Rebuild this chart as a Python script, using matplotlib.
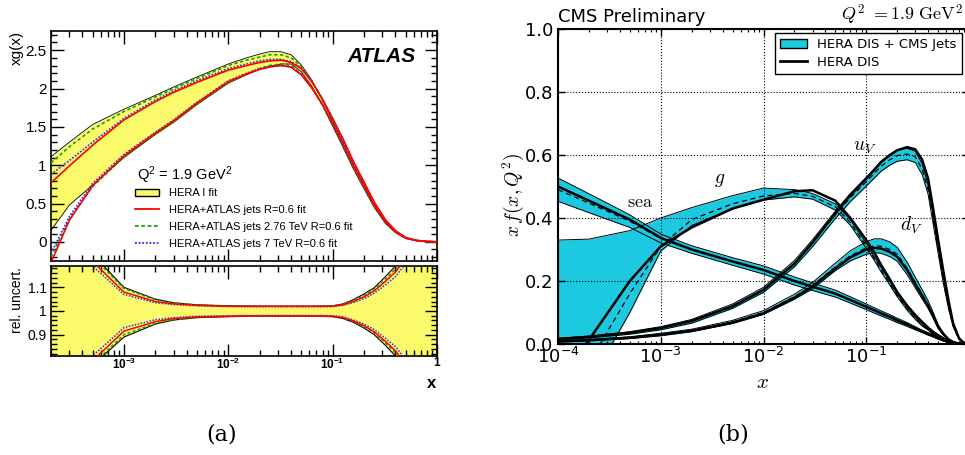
import math
import matplotlib
matplotlib.use("Agg")
import matplotlib.pyplot as plt
from matplotlib.patches import Patch
from matplotlib.lines import Line2D
from matplotlib.ticker import FixedLocator, MultipleLocator, LogLocator, NullFormatter, FuncFormatter

plt.rcParams['mathtext.fontset'] = 'cm'

# ---------------- (a) ATLAS gluon, Q2 = 1.9 GeV2 ----------------
x_a = [2e-4, 3e-4, 5e-4, 1e-3, 2e-3, 3e-3, 5e-3, 0.01, 0.015, 0.02, 0.025, 0.032, 0.04, 0.05,
       0.063, 0.08, 0.1, 0.126, 0.158, 0.2, 0.25, 0.32, 0.4, 0.5, 0.63, 0.8, 1.0]

# xg(x) band edges
hera1_up = [1.11, 1.30, 1.53, 1.73, 1.91, 2.02, 2.15, 2.32, 2.40, 2.45, 2.48, 2.48, 2.44, 2.31,
            2.11, 1.85, 1.58, 1.29, 1.00, 0.73, 0.48, 0.26, 0.13, 0.05, 0.018, 0.004, 0.0]
hera1_dn = [0.15, 0.48, 0.74, 1.10, 1.40, 1.56, 1.79, 2.07, 2.18, 2.25, 2.29, 2.32, 2.32, 2.22,
            2.03, 1.78, 1.51, 1.23, 0.95, 0.69, 0.45, 0.24, 0.12, 0.045, 0.015, 0.003, 0.0]
red_up = [0.77, 0.99, 1.26, 1.59, 1.83, 1.95, 2.08, 2.24, 2.30, 2.34, 2.36, 2.37, 2.34, 2.26,
          2.09, 1.86, 1.61, 1.34, 1.05, 0.78, 0.52, 0.29, 0.145, 0.057, 0.02, 0.005, 0.0]
red_dn = [-0.27, 0.28, 0.73, 1.12, 1.42, 1.58, 1.81, 2.09, 2.19, 2.25, 2.28, 2.30, 2.28, 2.18,
          2.01, 1.79, 1.54, 1.27, 0.99, 0.73, 0.48, 0.26, 0.13, 0.05, 0.017, 0.004, 0.0]
green_up = [1.03, 1.24, 1.47, 1.70, 1.89, 2.00, 2.13, 2.30, 2.37, 2.41, 2.44, 2.44, 2.40, 2.29,
            2.10, 1.85, 1.59, 1.31, 1.02, 0.75, 0.50, 0.27, 0.135, 0.052, 0.018, 0.004, 0.0]
green_dn = [-0.20, 0.30, 0.72, 1.11, 1.41, 1.57, 1.80, 2.08, 2.19, 2.26, 2.30, 2.32, 2.30, 2.19,
            2.01, 1.78, 1.52, 1.25, 0.97, 0.71, 0.46, 0.25, 0.125, 0.047, 0.016, 0.003, 0.0]
blue_up = [0.88, 1.06, 1.30, 1.61, 1.85, 1.97, 2.10, 2.26, 2.32, 2.36, 2.38, 2.38, 2.35, 2.27,
           2.10, 1.86, 1.60, 1.33, 1.04, 0.77, 0.51, 0.28, 0.14, 0.055, 0.019, 0.005, 0.0]
blue_dn = [-0.15, 0.33, 0.76, 1.14, 1.43, 1.59, 1.82, 2.10, 2.20, 2.26, 2.29, 2.30, 2.28, 2.18,
           2.01, 1.79, 1.54, 1.27, 0.99, 0.73, 0.48, 0.26, 0.13, 0.05, 0.017, 0.004, 0.0]

# relative uncertainties
rel_hera1_up = [1.6, 1.4, 1.24, 1.10, 1.05, 1.035, 1.026, 1.022, 1.021, 1.02, 1.02, 1.02, 1.02, 1.02,
                1.02, 1.021, 1.022, 1.03, 1.048, 1.072, 1.098, 1.145, 1.19, 1.26, 1.35, 1.47, 1.6]
rel_hera1_dn = [0.4, 0.6, 0.77, 0.89, 0.945, 0.962, 0.972, 0.976, 0.978, 0.978, 0.978, 0.978, 0.978, 0.978,
                0.978, 0.977, 0.976, 0.968, 0.952, 0.928, 0.9, 0.855, 0.81, 0.74, 0.65, 0.53, 0.4]
rel_red_up = [1.5, 1.33, 1.21, 1.08, 1.04, 1.03, 1.024, 1.02, 1.02, 1.02, 1.02, 1.02, 1.02, 1.02,
              1.02, 1.02, 1.02, 1.026, 1.04, 1.06, 1.085, 1.125, 1.165, 1.22, 1.3, 1.4, 1.5]
rel_red_dn = [0.5, 0.67, 0.79, 0.915, 0.955, 0.968, 0.975, 0.978, 0.979, 0.979, 0.979, 0.979, 0.979, 0.979,
              0.979, 0.979, 0.978, 0.972, 0.958, 0.938, 0.912, 0.872, 0.832, 0.775, 0.7, 0.6, 0.5]
rel_green_up = [1.57, 1.38, 1.23, 1.095, 1.048, 1.034, 1.025, 1.021, 1.02, 1.02, 1.02, 1.02, 1.02, 1.02,
                1.02, 1.02, 1.021, 1.028, 1.044, 1.066, 1.092, 1.135, 1.178, 1.24, 1.32, 1.43, 1.55]
rel_green_dn = [0.43, 0.62, 0.775, 0.9, 0.948, 0.963, 0.973, 0.977, 0.978, 0.978, 0.978, 0.978, 0.978, 0.978,
                0.978, 0.978, 0.977, 0.97, 0.956, 0.934, 0.908, 0.865, 0.822, 0.76, 0.68, 0.57, 0.45]
rel_blue_up = [1.45, 1.3, 1.19, 1.07, 1.035, 1.027, 1.022, 1.019, 1.018, 1.018, 1.018, 1.018, 1.018, 1.018,
               1.018, 1.018, 1.019, 1.024, 1.036, 1.052, 1.075, 1.11, 1.145, 1.2, 1.27, 1.36, 1.45]
rel_blue_dn = [0.55, 0.7, 0.81, 0.93, 0.963, 0.972, 0.978, 0.98, 0.981, 0.981, 0.981, 0.981, 0.981, 0.981,
               0.981, 0.981, 0.98, 0.975, 0.962, 0.945, 0.922, 0.885, 0.85, 0.795, 0.72, 0.63, 0.55]

# ---------------- (b) CMS PDFs, Q2 = 1.9 GeV2 ----------------
x_b = [1e-4, 2e-4, 5e-4, 1e-3, 2e-3, 5e-3, 0.01, 0.02, 0.03, 0.05, 0.07, 0.1, 0.12, 0.14, 0.17,
       0.2, 0.25, 0.3, 0.35, 0.4, 0.45, 0.5, 0.56, 0.63, 0.7, 0.8, 0.9, 1.0]

g_up = [0.33, 0.333, 0.36, 0.40, 0.433, 0.471, 0.495, 0.49, 0.478, 0.445, 0.395, 0.32, 0.277, 0.243, 0.199,
        0.16, 0.115, 0.085, 0.062, 0.048, 0.033, 0.022, 0.013, 0.007, 0.003, 0.001, 0.0002, 0.0]
g_dn = [-0.30, -0.13, 0.10, 0.295, 0.376, 0.43, 0.457, 0.467, 0.46, 0.425, 0.377, 0.303, 0.265, 0.228, 0.186,
        0.15, 0.107, 0.078, 0.057, 0.044, 0.03, 0.02, 0.012, 0.006, 0.0025, 0.0008, 0.0001, 0.0]
g_mid = [-0.14, -0.06, 0.16, 0.31, 0.395, 0.445, 0.47, 0.478, 0.469, 0.435, 0.386, 0.311, 0.271, 0.235, 0.192,
         0.155, 0.111, 0.081, 0.06, 0.046, 0.031, 0.021, 0.0125, 0.0065, 0.0028, 0.0009, 0.00015, 0.0]
g_hera = [-0.12, 0.013, 0.2, 0.31, 0.37, 0.43, 0.458, 0.485, 0.488, 0.455, 0.40, 0.33, 0.29, 0.25, 0.205,
          0.165, 0.122, 0.092, 0.07, 0.052, 0.038, 0.028, 0.018, 0.009, 0.004, 0.0012, 0.0002, 0.0]

sea_up = [0.527, 0.477, 0.41, 0.349, 0.312, 0.274, 0.248, 0.213, 0.194, 0.171, 0.15, 0.127, 0.115, 0.105, 0.093,
          0.082, 0.068, 0.055, 0.044, 0.036, 0.028, 0.02, 0.014, 0.008, 0.005, 0.002, 0.0004, 0.0]
sea_dn = [0.453, 0.417, 0.37, 0.321, 0.288, 0.25, 0.222, 0.187, 0.17, 0.149, 0.13, 0.109, 0.098, 0.089, 0.078,
          0.068, 0.056, 0.045, 0.036, 0.028, 0.022, 0.016, 0.01, 0.006, 0.003, 0.001, 0.0002, 0.0]
sea_mid = [0.49, 0.447, 0.39, 0.335, 0.30, 0.262, 0.235, 0.2, 0.182, 0.16, 0.14, 0.118, 0.107, 0.097, 0.086,
           0.075, 0.062, 0.05, 0.04, 0.032, 0.025, 0.018, 0.012, 0.007, 0.004, 0.0015, 0.0003, 0.0]
sea_hera = [0.50, 0.455, 0.395, 0.337, 0.30, 0.262, 0.235, 0.2, 0.182, 0.16, 0.14, 0.118, 0.107, 0.097, 0.086,
            0.075, 0.062, 0.05, 0.04, 0.032, 0.025, 0.018, 0.012, 0.007, 0.004, 0.0015, 0.0003, 0.0]

uv_up = [0.018, 0.025, 0.039, 0.055, 0.078, 0.127, 0.18, 0.265, 0.331, 0.422, 0.478, 0.529, 0.557, 0.581, 0.602,
         0.616, 0.621, 0.612, 0.572, 0.505, 0.403, 0.311, 0.214, 0.126, 0.061, 0.016, 0.0022, 0.0]
uv_dn = [0.012, 0.019, 0.031, 0.045, 0.066, 0.113, 0.164, 0.245, 0.309, 0.398, 0.452, 0.501, 0.527, 0.549, 0.568,
         0.58, 0.585, 0.576, 0.538, 0.475, 0.377, 0.289, 0.196, 0.114, 0.055, 0.014, 0.0018, 0.0]
uv_mid = [0.015, 0.022, 0.035, 0.05, 0.072, 0.12, 0.172, 0.255, 0.32, 0.41, 0.465, 0.515, 0.542, 0.565, 0.585,
          0.598, 0.603, 0.594, 0.555, 0.49, 0.39, 0.30, 0.205, 0.12, 0.058, 0.015, 0.002, 0.0]
uv_hera = [0.016, 0.023, 0.036, 0.051, 0.073, 0.12, 0.172, 0.255, 0.322, 0.415, 0.472, 0.525, 0.553, 0.578, 0.60,
           0.615, 0.625, 0.618, 0.585, 0.525, 0.425, 0.332, 0.235, 0.14, 0.066, 0.018, 0.0025, 0.0]

dv_up = [0.010, 0.014, 0.023, 0.034, 0.047, 0.075, 0.106, 0.158, 0.195, 0.257, 0.296, 0.325, 0.334, 0.334, 0.324,
         0.307, 0.26, 0.212, 0.173, 0.137, 0.099, 0.062, 0.037, 0.017, 0.007, 0.0018, 0.0003, 0.0]
dv_dn = [0.006, 0.010, 0.017, 0.026, 0.039, 0.065, 0.094, 0.142, 0.175, 0.233, 0.264, 0.285, 0.29, 0.288, 0.277,
         0.263, 0.22, 0.178, 0.143, 0.113, 0.081, 0.05, 0.029, 0.013, 0.005, 0.0012, 0.0001, 0.0]
dv_mid = [0.008, 0.012, 0.02, 0.03, 0.043, 0.07, 0.10, 0.15, 0.185, 0.245, 0.28, 0.305, 0.312, 0.31, 0.30,
          0.285, 0.24, 0.195, 0.158, 0.125, 0.09, 0.056, 0.033, 0.015, 0.006, 0.0015, 0.0002, 0.0]
dv_hera = [0.008, 0.012, 0.02, 0.03, 0.042, 0.068, 0.097, 0.147, 0.183, 0.24, 0.275, 0.30, 0.305, 0.303, 0.292,
           0.277, 0.235, 0.19, 0.153, 0.12, 0.087, 0.055, 0.032, 0.015, 0.006, 0.0015, 0.0002, 0.0]

W, H = 965, 455
yellow = '#fafa6a'
cyan = '#1cc9e1'
red = '#ff0000'
green = '#14a014'
blue = '#2a2aff'
sans = 'Liberation Sans'


def box(l, t, r, b):
    # pixel box -> figure fraction rect
    return [l / W, 1 - b / H, (r - l) / W, (b - t) / H]


def pow10(v, p):
    return r'$\mathregular{10^{%d}}$' % round(math.log10(v))


fig = plt.figure(figsize=(W / 100, H / 100), dpi=100)

ax1 = fig.add_axes(box(51, 31, 437, 261))
ax2 = fig.add_axes(box(51, 266, 437, 356))
axb = fig.add_axes(box(558, 29, 969, 344))

# ---- top panel ----
ax1.fill_between(x_a, hera1_dn, hera1_up, color=yellow, lw=0, zorder=1)
ax1.plot(x_a, hera1_up, color='k', lw=0.6, zorder=2)
ax1.plot(x_a, hera1_dn, color='k', lw=0.6, zorder=2)
for up, dn, col, ls in [(green_up, green_dn, green, (0, (2, 1.5))),
                        (blue_up, blue_dn, blue, (0, (1, 1))),
                        (red_up, red_dn, red, '-')]:
    ax1.plot(x_a, up, color=col, lw=1.2, ls=ls, zorder=3)
    ax1.plot(x_a, dn, color=col, lw=1.2, ls=ls, zorder=3)

ax1.set_xscale('log')
ax1.set_xlim(2e-4, 1)
ax1.set_ylim(-0.25, 2.75)
ax1.yaxis.set_major_locator(MultipleLocator(0.5))
ax1.yaxis.set_minor_locator(MultipleLocator(0.1))
ax1.yaxis.set_major_formatter(FuncFormatter(lambda v, p: '%g' % v))
ax1.xaxis.set_major_formatter(NullFormatter())

# ---- ratio panel ----
ax2.fill_between(x_a, rel_hera1_dn, rel_hera1_up, color=yellow, lw=0, zorder=1)
ax2.plot(x_a, rel_hera1_up, color='k', lw=0.8, zorder=2)
ax2.plot(x_a, rel_hera1_dn, color='k', lw=0.8, zorder=2)
for up, dn, col, ls in [(rel_green_up, rel_green_dn, green, (0, (2, 1.5))),
                        (rel_blue_up, rel_blue_dn, blue, (0, (1, 1))),
                        (rel_red_up, rel_red_dn, red, '-')]:
    ax2.plot(x_a, up, color=col, lw=1.1, ls=ls, zorder=3)
    ax2.plot(x_a, dn, color=col, lw=1.1, ls=ls, zorder=3)

ax2.set_xscale('log')
ax2.set_xlim(2e-4, 1)
ax2.set_ylim(0.81, 1.19)
ax2.yaxis.set_major_locator(FixedLocator([0.9, 1.0, 1.1]))
ax2.yaxis.set_minor_locator(MultipleLocator(0.02))
ax2.yaxis.set_major_formatter(FuncFormatter(lambda v, p: '%g' % v))
ax2.xaxis.set_major_locator(FixedLocator([1e-3, 1e-2, 1e-1, 1]))
ax2.xaxis.set_major_formatter(FuncFormatter(lambda v, p: '1' if v >= 1 else pow10(v, p)))

for ax in (ax1, ax2):
    ax.xaxis.set_minor_locator(LogLocator(base=10, subs=range(2, 10), numticks=20))
    ax.xaxis.set_minor_formatter(NullFormatter())
    ax.tick_params(which='both', direction='in', top=True, right=True, width=1.0)
    ax.tick_params(which='major', length=9)
    ax.tick_params(which='minor', length=4.5)
    for s in ax.spines.values():
        s.set_linewidth(1.2)
    for lab in ax.get_yticklabels():
        lab.set_family(sans)
ax1.tick_params(axis='y', labelsize=11, pad=3)
ax2.tick_params(axis='y', labelsize=10, pad=3)
ax2.tick_params(axis='x', labelsize=8.5, pad=0.5)
for lab in ax2.get_xticklabels():
    lab.set_family(sans)
    lab.set_weight('bold')

fig.text(17 / W, 1 - 31 / H, 'xg(x)', rotation=90, ha='center', va='top', fontsize=11, family=sans)
fig.text(17 / W, 1 - 267 / H, 'rel. uncert.', rotation=90, ha='center', va='top', fontsize=10, family=sans)
fig.text(436 / W, 1 - 383 / H, 'x', ha='right', va='center', fontsize=12, family=sans, weight='bold')
fig.text(416 / W, 1 - 57 / H, 'ATLAS', ha='right', va='center', fontsize=15, family=sans,
         weight='bold', style='italic')
fig.text(137 / W, 1 - 175 / H, r'Q$\mathregular{^2}$ = 1.9 GeV$\mathregular{^2}$', ha='left', va='center',
         fontsize=10.5, family=sans)

h_a = [Patch(facecolor=yellow, edgecolor='k', lw=1.0),
       Line2D([], [], color=red, lw=1.3),
       Line2D([], [], color=green, lw=1.3, ls=(0, (2, 1.5))),
       Line2D([], [], color=blue, lw=1.3, ls=(0, (1, 1)))]
l_a = ['HERA I fit', 'HERA+ATLAS jets R=0.6 fit',
       'HERA+ATLAS jets 2.76 TeV R=0.6 fit', 'HERA+ATLAS jets 7 TeV R=0.6 fit']
ax1.legend(h_a, l_a, loc='upper left', bbox_to_anchor=(135 / W, 1 - 188 / H),
           bbox_transform=fig.transFigure, frameon=False, borderpad=0, borderaxespad=0,
           prop={'family': sans, 'size': 8}, handlelength=2.2, handleheight=0.6,
           handletextpad=0.9, labelspacing=0.62)

# ---- (b) panel ----
bands = [(g_dn, g_up, g_mid, g_hera), (sea_dn, sea_up, sea_mid, sea_hera),
         (uv_dn, uv_up, uv_mid, uv_hera), (dv_dn, dv_up, dv_mid, dv_hera)]
for dn, up, mid, hera in bands:
    axb.fill_between(x_b, dn, up, color=cyan, lw=0, zorder=1)
for dn, up, mid, hera in bands:
    axb.plot(x_b, up, color='k', lw=0.7, zorder=2)
    axb.plot(x_b, dn, color='k', lw=0.7, zorder=2)
    axb.plot(x_b, mid, color='k', lw=0.9, ls='--', dashes=(4, 3), zorder=3)
    axb.plot(x_b, hera, color='k', lw=1.8, zorder=4)

axb.set_xscale('log')
axb.set_xlim(1e-4, 1)
axb.set_ylim(0, 1)
axb.xaxis.set_major_locator(FixedLocator([1e-4, 1e-3, 1e-2, 1e-1]))
axb.xaxis.set_minor_locator(LogLocator(base=10, subs=range(2, 10), numticks=20))
axb.xaxis.set_minor_formatter(NullFormatter())
axb.xaxis.set_major_formatter(FuncFormatter(pow10))
axb.yaxis.set_major_locator(MultipleLocator(0.2))
axb.yaxis.set_major_formatter(FuncFormatter(lambda v, p: '%.1f' % v))
axb.grid(True, which='major', ls=':', color='k', lw=0.8)
axb.tick_params(which='both', direction='in', top=True, right=True, labelsize=13)
axb.tick_params(which='major', length=5, width=1)
axb.tick_params(which='minor', length=2.5, width=0.8)
axb.tick_params(axis='x', pad=2)
for s in axb.spines.values():
    s.set_linewidth(1.5)

axb.text(4.7e-4, 0.435, r'$\mathrm{sea}$', fontsize=13)
axb.text(3.3e-3, 0.51, r'$g$', fontsize=14)
axb.text(0.075, 0.615, r'$u_V$', fontsize=14)
axb.text(0.215, 0.36, r'$d_V$', fontsize=14)

fig.text(558 / W, 1 - 22 / H, 'CMS Preliminary', ha='left', va='baseline', fontsize=13)
fig.text(963 / W, 1 - 20 / H, r'$Q^2\ =1.9\ \mathrm{GeV}^2$', ha='right', va='baseline', fontsize=13)
fig.text(513 / W, 1 - 195 / H, r'$x\,f(x,Q^2)$', rotation=90, ha='center', va='center', fontsize=14)
fig.text(762 / W, 1 - 382 / H, r'$x$', ha='center', va='center', fontsize=15)

h_b = [Patch(facecolor=cyan, edgecolor='k', lw=1.0), Line2D([], [], color='k', lw=2)]
axb.legend(h_b, ['HERA DIS + CMS Jets', 'HERA DIS'], loc='upper right',
           bbox_to_anchor=(962 / W, 1 - 33 / H), bbox_transform=fig.transFigure,
           fontsize=9.5, fancybox=False, edgecolor='k', framealpha=1,
           borderaxespad=0, handlelength=2.0, handletextpad=0.8, labelspacing=0.35)
axb.get_legend().get_frame().set_linewidth(1.0)

fig.text(222 / W, 1 - 435 / H, '(a)', ha='center', va='center', fontsize=16, family='DejaVu Serif')
fig.text(733 / W, 1 - 435 / H, '(b)', ha='center', va='center', fontsize=16, family='DejaVu Serif')

fig.savefig('out.png', dpi=100)
